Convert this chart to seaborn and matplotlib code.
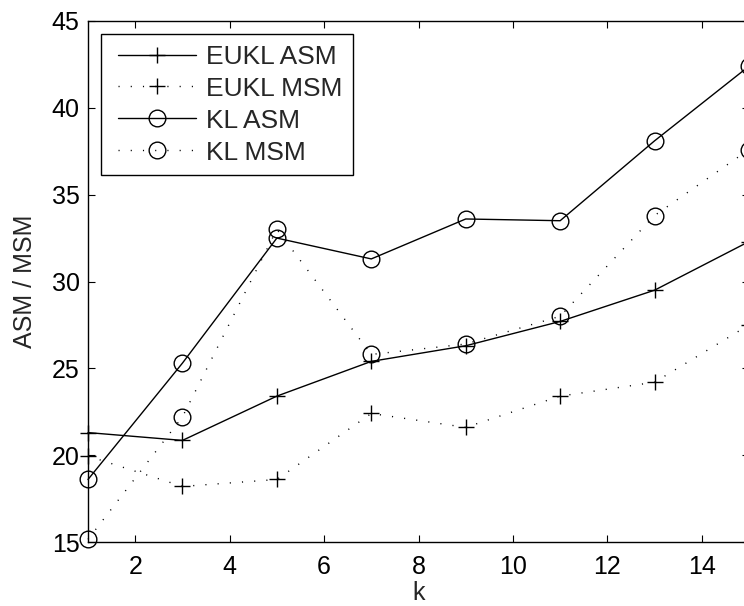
import numpy as np
import pandas as pd
import matplotlib
matplotlib.use("Agg")
import matplotlib.pyplot as plt
from matplotlib.legend_handler import HandlerLine2D
from matplotlib.lines import Line2D
import seaborn as sns

# Neighbourhood size k and the four quality measures
k = [1, 3, 5, 7, 9, 11, 13, 15]
eukl_asm = [21.3, 20.85, 23.4, 25.4, 26.3, 27.7, 29.5, 32.3]
eukl_msm = [19.95, 18.2, 18.6, 22.4, 21.6, 23.4, 24.2, 27.5]
kl_asm = [18.6, 25.3, 32.5, 31.3, 33.6, 33.5, 38.1, 42.4]
kl_msm = [15.15, 22.2, 33.0, 25.8, 26.4, 28.0, 33.8, 37.6]

series_labels = ["EUKL ASM", "EUKL MSM", "KL ASM", "KL MSM"]
x_ticks = [2, 4, 6, 8, 10, 12, 14]
y_ticks = [15, 20, 25, 30, 35, 40, 45]

FS = 18
LEG_FS = 19

sns.set_style("ticks")
plt.rcParams["font.family"] = ["Liberation Sans", "DejaVu Sans"]
plt.rcParams["font.size"] = FS

fig = plt.figure(figsize=(7.44, 6.06), dpi=100)
ax = fig.add_axes([88 / 744, 64 / 606, 661 / 744, 521 / 606])

dotted = (0, (0.8, 8))
styles = [
    (eukl_asm, "+", "-"),
    (eukl_msm, "+", dotted),
    (kl_asm, "o", "-"),
    (kl_msm, "o", dotted),
]

for (vals, mk, ls), lab in zip(styles, series_labels):
    df = pd.DataFrame({"k": k, "v": vals})
    sns.lineplot(
        data=df, x="k", y="v", ax=ax, color="black", linestyle=ls,
        linewidth=1.0, marker=mk, markersize=12, markerfacecolor="none",
        markeredgecolor="black", markeredgewidth=1.0, label=lab,
        clip_on=False, legend=False,
    )

ax.set_xlim(1, 15)
ax.set_ylim(15, 45)
ax.set_xticks(x_ticks)
ax.set_yticks(y_ticks)
ax.set_xlabel("k", fontsize=FS, labelpad=2)
ax.set_ylabel("ASM / MSM", fontsize=FS, labelpad=10.5)
ax.tick_params(direction="in", length=5, width=0.8, top=True, right=True,
               labelsize=FS, colors="black")
ax.tick_params(axis="x", pad=9)
ax.tick_params(axis="y", pad=6)
for sp in ax.spines.values():
    sp.set_visible(True)
    sp.set_linewidth(1.0)
    sp.set_color("black")

handles, labels = ax.get_legend_handles_labels()
leg = ax.legend(handles, labels, loc="upper left", fontsize=LEG_FS,
                handlelength=3.2, handletextpad=0.36, labelspacing=0.3,
                borderaxespad=0.5, borderpad=0.4, fancybox=False,
                edgecolor="black", framealpha=1.0,
                handler_map={Line2D: HandlerLine2D(xpad=0.25)})
leg.get_frame().set_linewidth(1.0)

fig.savefig("out.png", dpi=100)
